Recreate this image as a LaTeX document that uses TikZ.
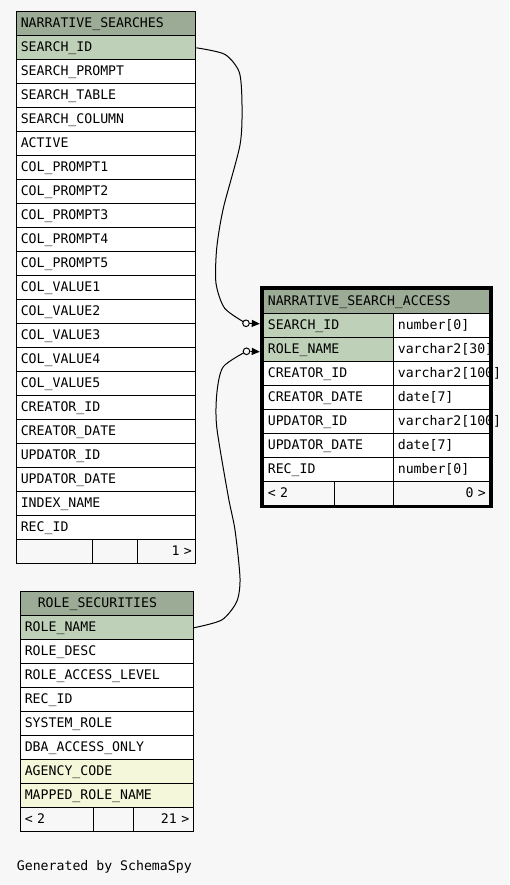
\documentclass[tikz,border=0pt]{standalone}
\usepackage{fontspec}
\setmainfont{DejaVu Sans Mono}
\usetikzlibrary{arrows.meta,calc}
\definecolor{bg}{HTML}{F7F7F7}
\definecolor{hdr}{HTML}{9CAB96}
\definecolor{keyc}{HTML}{BED1B8}
\definecolor{idxc}{HTML}{F4F7DA}
\begin{document}
\begin{tikzpicture}[x=1pt,y=-1pt,
  cell/.style={draw=black, line width=1pt, anchor=north west, minimum height=24pt,
    inner xsep=4pt, inner ysep=0pt, text height=10pt, text depth=3pt, align=left,
    font=\fontsize{13.2}{15}\selectfont, fill=white},
  hcell/.style={cell, fill=hdr},
  kcell/.style={cell, fill=keyc},
  icell/.style={cell, fill=idxc},
  fcell/.style={cell, fill=bg},
  link/.style={draw=black, line width=1pt},
  ring/.style={circle, draw=black, line width=1pt, fill=bg, minimum size=6.6pt, inner sep=0pt},
  tip/.style={draw=black, line width=1pt, -{Triangle[length=8pt,width=7pt]}}]
\fill[bg] (0,0) rectangle (509,885);
\useasboundingbox (0,0) rectangle (509,885);

% NARRATIVE_SEARCHES
\node[hcell, text width=171pt] (ns) at (16.3,11.3) {NARRATIVE\_SEARCHES};
\node[kcell, text width=171pt] (ns-sid) at (16.3,35.3) {SEARCH\_ID};
\foreach \t [count=\i] in {SEARCH\_PROMPT, SEARCH\_TABLE, SEARCH\_COLUMN, ACTIVE,
  COL\_PROMPT1, COL\_PROMPT2, COL\_PROMPT3, COL\_PROMPT4, COL\_PROMPT5,
  COL\_VALUE1, COL\_VALUE2, COL\_VALUE3, COL\_VALUE4, COL\_VALUE5,
  CREATOR\_ID, CREATOR\_DATE, UPDATOR\_ID, UPDATOR\_DATE, INDEX\_NAME, REC\_ID}
  \node[cell, text width=171pt] (ns-\i) at (16.3,{35.3+24*\i}) {\t};
\node[fcell, text width=67.4pt] (ns-f1) at (16.3,539.3) {};
\node[fcell, text width=37pt] (ns-f2) at (91.7,539.3) {};
\node[fcell, text width=50.6pt, align=right] (ns-f3) at (136.7,539.3) {1 >};

% ROLE_SECURITIES
\node[hcell, text width=164.4pt] (rs) at (20.3,591.3) {\hspace*{13pt}ROLE\_SECURITIES};
\node[kcell, text width=164.4pt] (rs-rn) at (20.3,615.3) {ROLE\_NAME};
\foreach \t [count=\i] in {ROLE\_DESC, ROLE\_ACCESS\_LEVEL, REC\_ID, SYSTEM\_ROLE, DBA\_ACCESS\_ONLY}
  \node[cell, text width=164.4pt] (rs-\i) at (20.3,{615.3+24*\i}) {\t};
\node[icell, text width=164.4pt] (rs-6) at (20.3,759.3) {AGENCY\_CODE};
\node[icell, text width=164.4pt] (rs-7) at (20.3,783.3) {MAPPED\_ROLE\_NAME};
\node[fcell, text width=65pt] (rs-f1) at (20.3,807.3) {< 2};
\node[fcell, text width=31.4pt] (rs-f2) at (93.3,807.3) {};
\node[fcell, text width=52pt, align=right] (rs-f3) at (132.7,807.3) {21 >};

% NARRATIVE_SEARCH_ACCESS
\node[hcell, text width=218pt] (nsa) at (263.3,289.3) {NARRATIVE\_SEARCH\_ACCESS};
\node[kcell, text width=122pt] (nsa-sid) at (263.3,313.3) {SEARCH\_ID};
\node[cell, text width=88pt] (nsa-sidt) at (393.3,313.3) {number[0]};
\node[kcell, text width=122pt] (nsa-rn) at (263.3,337.3) {ROLE\_NAME};
\node[cell, text width=88pt] (nsa-rnt) at (393.3,337.3) {varchar2[30]};
\foreach \n/\t [count=\i from 2] in {CREATOR\_ID/varchar2[100], CREATOR\_DATE/date[7],
  UPDATOR\_ID/varchar2[100], UPDATOR\_DATE/date[7], REC\_ID/number[0]} {
  \node[cell, text width=122pt] (nsa-\i) at (263.3,{313.3+24*\i}) {\n};
  \node[cell, text width=88pt] (nsa-\i t) at (393.3,{313.3+24*\i}) {\t};
}
\node[fcell, text width=63pt] (nsa-f1) at (263.3,481.3) {< 2};
\node[fcell, text width=51pt] (nsa-f2) at (334.3,481.3) {};
\node[fcell, text width=88pt, align=right] (nsa-f3) at (393.3,481.3) {0 >};
\draw[line width=3.5pt] (261.5,287.6) rectangle (491.2,506.6);

% connectors
\coordinate (c1) at (246,323.3);
\coordinate (c2) at (246.5,351.3);
\draw[link] plot[smooth, tension=0.45] coordinates {(ns-sid.east) (224.7,54.3) (239.3,72.3)
  (242,105) (240,145) (223.3,208.3) (216.7,248.3) (216,283.3) (224.7,308.3) (c1)};
\draw[link] plot[smooth, tension=0.45] coordinates {(rs-rn.east) (221.7,620) (236.7,601.7)
  (240,578.3) (235,530) (228.3,496.7) (216.7,426.7) (217,391.7) (223.3,366.7) (c2)};
\node[ring] (r1) at (c1) {};
\node[ring] (r2) at (c2) {};
\coordinate (t1) at ($(nsa-sid.west)+(-3.5,-2)$);
\coordinate (t2) at ($(nsa-rn.west)+(-3.5,2)$);
\draw[tip] (r1.east) -- (t1);
\draw[tip] (r2.east) -- (t2);

\node[anchor=base west, inner sep=0pt, font=\fontsize{13.2}{15}\selectfont] (gen) at (16.7,870) {Generated by SchemaSpy};
\end{tikzpicture}
\end{document}
